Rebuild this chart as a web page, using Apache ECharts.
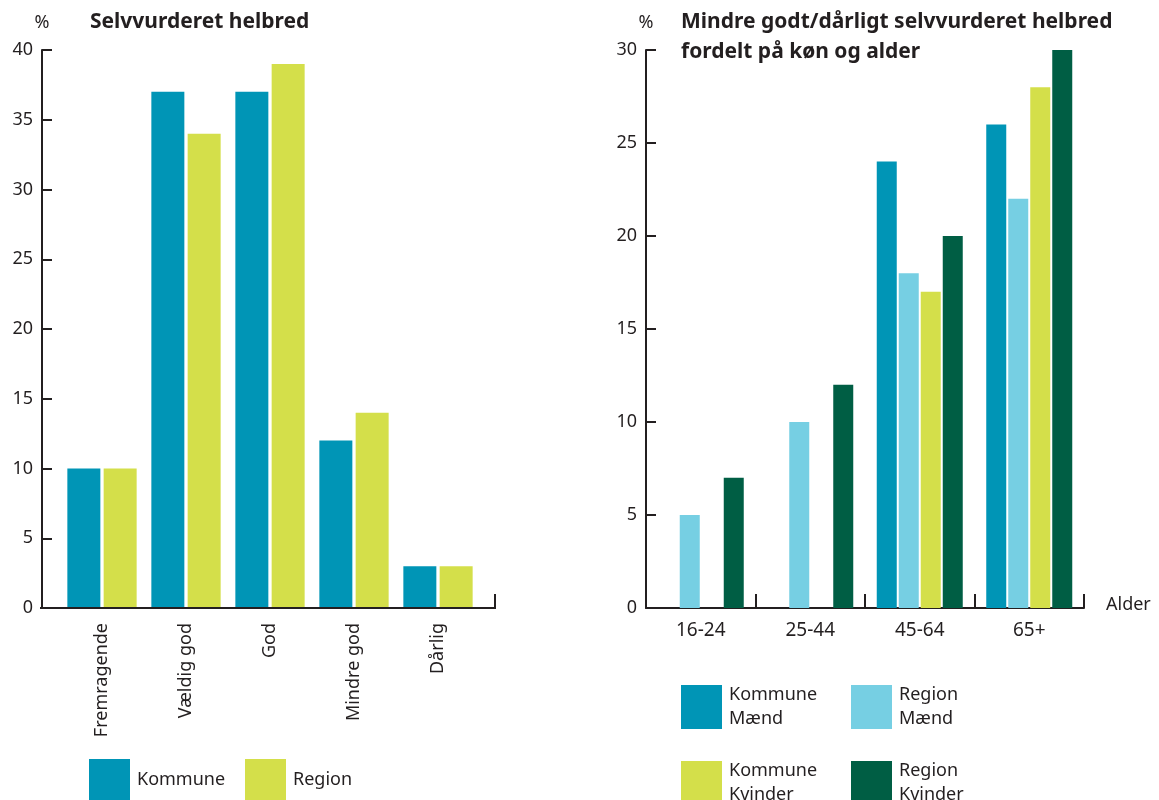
<!DOCTYPE html>
<html>
<head>
<meta charset="utf-8">
<script src="https://cdn.jsdelivr.net/npm/echarts@6/dist/echarts.min.js"></script>
<style>
  html, body { margin: 0; padding: 0; background: #fff; }
  #chart { width: 1159px; height: 800px; }
</style>
</head>
<body>
<div id="chart"></div>
<script>
// venstre: selvvurderet helbred
const leftCategories = ['Fremragende', 'Vældig god', 'God', 'Mindre god', 'Dårlig']
const leftKommune = [10, 37, 37, 12, 3]
const leftRegion = [10, 34, 39, 14, 3]

// højre: mindre godt/dårligt fordelt på køn og alder
const ageGroups = ['16-24', '25-44', '45-64', '65+']
const kommuneMaend = [0, 0, 24, 26]
const regionMaend = [5, 10, 18, 22]
const kommuneKvinder = [0, 0, 17, 28]
const regionKvinder = [7, 12, 20, 30]

const leftMax = 40
const rightMax = 30
const tickStep = 5

const ink = '#231f20'
const font = 'Noto Sans'
const colors = {
  kommune: '#0095b6',
  regionLight: '#76cfe3',
  lime: '#d4df4a',
  dark: '#005e44',
}

const chart = echarts.init(document.getElementById('chart'))

const yAxisBase = (max) => ({
  type: 'value',
  min: 0,
  max: max,
  interval: tickStep,
  name: '%',
  nameLocation: 'end',
  nameGap: 18,
  nameTextStyle: { color: ink, fontSize: 18, fontFamily: font, align: 'center' },
  axisLine: { show: true, lineStyle: { color: ink, width: 2 } },
  axisTick: { show: true, inside: true, length: 10, lineStyle: { color: ink, width: 2 } },
  axisLabel: { color: ink, fontSize: 18, fontFamily: font, margin: 9 },
  splitLine: { show: false },
})

// legend helper, one box per item
const legendItem = (name, left, top, h) => ({
  data: [name],
  left: left,
  top: top,
  padding: 0,
  icon: 'rect',
  itemWidth: 41,
  itemHeight: h,
  itemGap: 0,
  selectedMode: false,
  formatter: (n) => n.replace(' ', '\n'),
  textStyle: { color: ink, fontSize: 18, fontFamily: font, lineHeight: 24, padding: [0, 0, 0, 2] },
})

// venstre x-akse tegnes som linje med endestreg
const axisY = 608
const leftAxisStart = 40
const leftAxisEnd = 495

const titleStyle = { color: ink, fontSize: 21, fontWeight: 'bold', fontFamily: font, lineHeight: 30 }

chart.setOption({
  animation: false,
  textStyle: { fontFamily: font },
  title: [
    { text: 'Selvvurderet helbred', left: 90, top: 7, padding: 0, textStyle: titleStyle },
    {
      text: 'Mindre godt/dårligt selvvurderet helbred\nfordelt på køn og alder',
      left: 681,
      top: 7,
      padding: 0,
      textStyle: titleStyle,
    },
  ],
  legend: [
    legendItem('Kommune', 89, 759, 41),
    legendItem('Region', 245, 759, 41),
    legendItem('Kommune Mænd', 681, 683, 44),
    legendItem('Region Mænd', 851, 683, 44),
    legendItem('Kommune Kvinder', 681, 759, 44),
    legendItem('Region Kvinder', 851, 759, 44),
  ],
  grid: [
    { left: 60, top: 50, width: 420, height: 558 },
    { left: 646, top: 50, width: 438, height: 558 },
  ],
  xAxis: [
    {
      gridIndex: 0,
      type: 'category',
      data: leftCategories,
      axisLine: { show: false },
      axisTick: { show: false },
      axisLabel: { color: ink, fontSize: 18, fontFamily: font, rotate: 90, margin: 15 },
    },
    {
      gridIndex: 1,
      type: 'category',
      data: ageGroups,
      name: 'Alder',
      nameLocation: 'end',
      nameGap: 22,
      nameTextStyle: { color: ink, fontSize: 18, fontFamily: font, verticalAlign: 'bottom', padding: [0, 0, -6, 0] },
      axisLine: { show: true, lineStyle: { color: ink, width: 2 } },
      axisTick: { show: true, inside: true, length: 14, lineStyle: { color: ink, width: 2 } },
      axisLabel: { color: ink, fontSize: 19, fontFamily: font, margin: 13 },
    },
  ],
  yAxis: [
    Object.assign(yAxisBase(leftMax), { gridIndex: 0, offset: 18 }),
    Object.assign(yAxisBase(rightMax), { gridIndex: 1 }),
  ],
  series: [
    { name: 'Kommune', type: 'bar', xAxisIndex: 0, yAxisIndex: 0, data: leftKommune, barWidth: 33, barGap: '10%', itemStyle: { color: colors.kommune } },
    { name: 'Region', type: 'bar', xAxisIndex: 0, yAxisIndex: 0, data: leftRegion, barWidth: 33, barGap: '10%', itemStyle: { color: colors.lime } },
    { name: 'Kommune Mænd', type: 'bar', xAxisIndex: 1, yAxisIndex: 1, data: kommuneMaend, barWidth: 20, barGap: '10%', itemStyle: { color: colors.kommune } },
    { name: 'Region Mænd', type: 'bar', xAxisIndex: 1, yAxisIndex: 1, data: regionMaend, barWidth: 20, barGap: '10%', itemStyle: { color: colors.regionLight } },
    { name: 'Kommune Kvinder', type: 'bar', xAxisIndex: 1, yAxisIndex: 1, data: kommuneKvinder, barWidth: 20, barGap: '10%', itemStyle: { color: colors.lime } },
    { name: 'Region Kvinder', type: 'bar', xAxisIndex: 1, yAxisIndex: 1, data: regionKvinder, barWidth: 20, barGap: '10%', itemStyle: { color: colors.dark } },
  ],
  graphic: [
    {
      type: 'polyline',
      z: 10,
      shape: { points: [[leftAxisStart, axisY], [leftAxisEnd, axisY], [leftAxisEnd, axisY - 14]] },
      style: { stroke: ink, lineWidth: 2, fill: null },
    },
  ],
})
</script>
</body>
</html>
